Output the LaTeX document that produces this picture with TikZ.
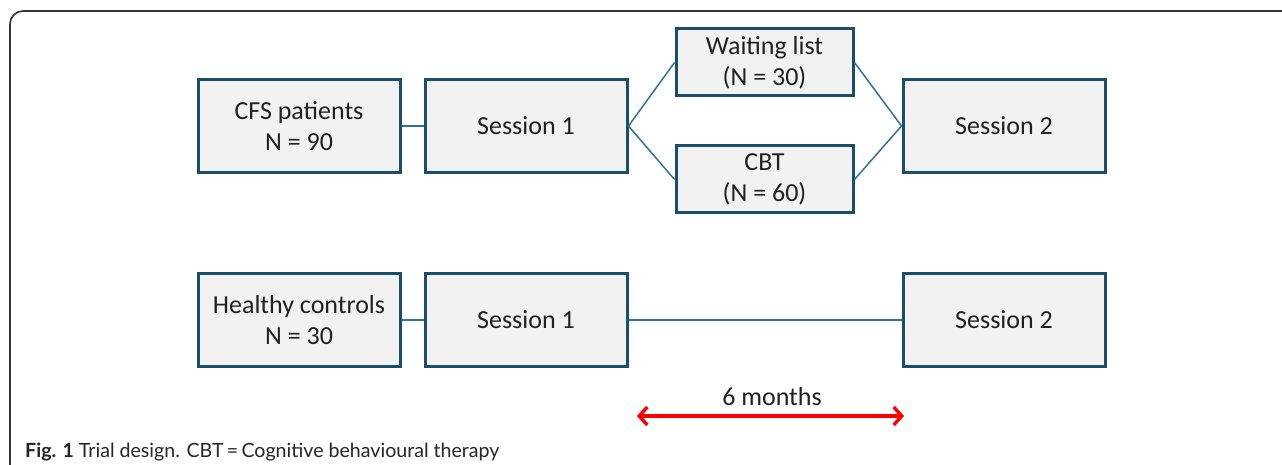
\documentclass[tikz,border=0pt]{standalone}
\usepackage{fontspec}
\setmainfont{Carlito}
\newfontfamily\capfont{Lato}
\usetikzlibrary{arrows.meta}
\definecolor{boxline}{HTML}{1B4E6B}
\definecolor{boxfill}{HTML}{F2F2F2}
\definecolor{conn}{HTML}{2F7399}
\definecolor{frame}{HTML}{333333}
\tikzset{
  stagebox/.style={draw=boxline, fill=boxfill, line width=3pt, rectangle, inner sep=0pt,
     minimum width=202pt, minimum height=93pt, align=center, text=black!87,
     font=\fontsize{26}{31}\selectfont},
  armbox/.style={stagebox, minimum width=177pt, minimum height=67pt},
  link/.style={draw=conn, line width=1.5pt},
}
\begin{document}
\begin{tikzpicture}[x=1pt,y=-1pt]
\useasboundingbox (0,0) rectangle (1282,465);
\draw[frame, line width=1.6pt, rounded corners=13pt] (10,480) -- (10,11) -- (1300,11);
% row 1
\node[stagebox] (cfs) at (299,126) {CFS patients\\N = 90};
\node[stagebox] (s1a) at (526,126) {Session 1};
\node[armbox] (wl) at (764.5,62.5) {Waiting list\\(N = 30)};
\node[armbox] (cbt) at (764.5,179.5) {CBT\\(N = 60)};
\node[stagebox] (s2a) at (1004,126) {Session 2};
\draw[link] (cfs.east) -- (s1a.west);
\draw[link] (s1a.east) -- (wl.west);
\draw[link] (s1a.east) -- (cbt.west);
\draw[link] (wl.east) -- (s2a.west);
\draw[link] (cbt.east) -- (s2a.west);
% row 2
\node[stagebox] (hc) at (299,320) {Healthy controls\\N = 30};
\node[stagebox] (s1b) at (526,320) {Session 1};
\node[stagebox] (s2b) at (1004,320) {Session 2};
\draw[link] (hc.east) -- (s1b.west);
\draw[link] (s1b.east) -- (s2b.west);
% duration
\coordinate (tl) at (637,416);
\coordinate (tr) at (904,416);
\draw[red, line width=3.4pt, {Straight Barb[length=8pt,width=18pt]}-{Straight Barb[length=8pt,width=18pt]}] (tl) -- (tr);
\node[font=\fontsize{26}{31}\selectfont, text=black!87, anchor=base] (dur) at (772,405) {6 months};
% caption
\node[anchor=base west, inner sep=0pt, font=\capfont\fontsize{19.6}{24}\selectfont, text=black!85] (cap) at (25,457)
  {\textbf{Fig. 1} Trial design. CBT\,=\,Cognitive behavioural therapy};
\end{tikzpicture}
\end{document}
